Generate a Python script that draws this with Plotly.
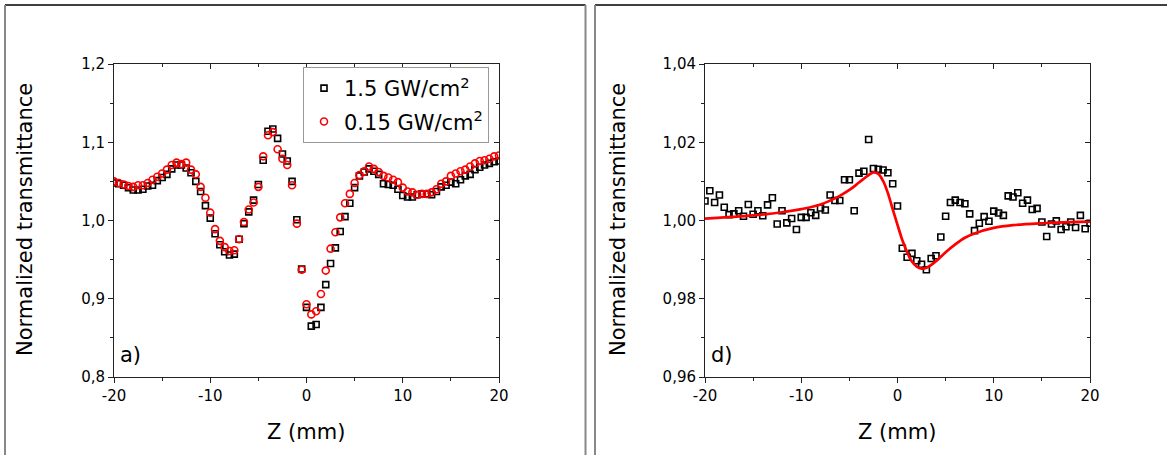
import plotly.graph_objects as go

# ---------------- data ----------------
z_a = [-20 + 0.5 * i for i in range(81)]

t_high_a = [1.048, 1.047, 1.045, 1.042, 1.039, 1.039, 1.040, 1.044, 1.045, 1.051,
            1.055, 1.059, 1.066, 1.071, 1.071, 1.067, 1.061, 1.050, 1.037, 1.019,
            1.003, 0.983, 0.969, 0.960, 0.956, 0.957, 0.976, 0.996, 1.011, 1.026,
            1.046, 1.077, 1.114, 1.117, 1.105, 1.085, 1.076, 1.050, 1.001, 0.938,
            0.889, 0.865, 0.867, 0.889, 0.918, 0.945, 0.965, 0.986, 1.005, 1.022,
            1.042, 1.057, 1.062, 1.066, 1.063, 1.059, 1.047, 1.046, 1.045, 1.040,
            1.032, 1.030, 1.030, 1.033, 1.034, 1.034, 1.033, 1.037, 1.043, 1.045,
            1.049, 1.047, 1.052, 1.057, 1.059, 1.065, 1.068, 1.071, 1.073, 1.075,
            1.076]

t_low_a = [1.050, 1.048, 1.046, 1.044, 1.043, 1.045, 1.045, 1.048, 1.052, 1.056,
           1.060, 1.065, 1.071, 1.074, 1.072, 1.074, 1.065, 1.059, 1.043, 1.029,
           1.010, 0.989, 0.974, 0.966, 0.961, 0.962, 0.976, 0.998, 1.014, 1.023,
           1.043, 1.082, 1.109, 1.113, 1.091, 1.079, 1.071, 1.045, 0.996, 0.937,
           0.893, 0.880, 0.884, 0.906, 0.936, 0.964, 0.985, 1.004, 1.022, 1.034,
           1.048, 1.058, 1.063, 1.069, 1.066, 1.062, 1.057, 1.055, 1.052, 1.049,
           1.042, 1.037, 1.036, 1.033, 1.034, 1.034, 1.036, 1.040, 1.047, 1.050,
           1.057, 1.060, 1.063, 1.065, 1.069, 1.073, 1.076, 1.077, 1.079, 1.082,
           1.083]

z_d = [-20 + 0.5 * i for i in range(81)]
t_d = [1.0050, 1.0076, 1.0046, 1.0065, 1.0034, 1.0015, 1.0017, 1.0025, 1.0011, 1.0041,
       1.0016, 1.0025, 1.0012, 1.0040, 1.0058, 0.9991, 1.0025, 0.9994, 1.0005, 0.9977,
       1.0008, 1.0008, 1.0020, 1.0013, 1.0032, 1.0027, 1.0065, 1.0051, 1.0051, 1.0104,
       1.0104, 1.0025, 1.0121, 1.0126, 1.0207, 1.0133, 1.0131, 1.0129, 1.0122, 1.0094,
       1.0037, 0.9929, 0.9906, 0.9916, 0.9897, 0.9888, 0.9874, 0.9903, 0.9910, 0.9958,
       1.0011, 1.0046, 1.0052, 1.0046, 1.0043, 1.0017, 0.9974, 0.9993, 1.0010, 0.9998,
       1.0024, 1.0019, 1.0013, 1.0063, 1.0060, 1.0071, 1.0044, 1.0052, 1.0028, 1.0031,
       0.9996, 0.9959, 0.9991, 0.9999, 0.9977, 0.9984, 0.9996, 0.9982, 1.0013, 0.9979,
       0.9993]

z_fit = [-20, -15, -12, -10, -8, -6, -5, -4, -3, -2.5, -2, -1.5, -1, -0.5, 0, 0.5,
         1, 1.5, 2, 2.5, 3, 4, 5, 6, 7, 8, 10, 12, 15, 18, 20]
t_fit = [1.0005, 1.0013, 1.0021, 1.0029, 1.0041, 1.0063, 1.0078, 1.0097, 1.0116, 1.0123,
         1.0119, 1.0101, 1.0070, 1.0029, 0.9989, 0.9950, 0.9919, 0.9895, 0.9882, 0.9877,
         0.9879, 0.9896, 0.9919, 0.9939, 0.9956, 0.9967, 0.9981, 0.9988, 0.9993, 0.9996,
         0.9997]

legend_labels = ["1.5 GW/cm<sup>2</sup>", "0.15 GW/cm<sup>2</sup>"]
x_tickvals = [-20, -10, 0, 10, 20]
x_ticktext = ["-20", "-10", "0", "10", "20"]

# ---------------- layout geometry ----------------
W, H = 1167, 455
xa_dom = [114 / W, 499 / W]
xd_dom = [705 / W, 1090 / W]
y_dom = [1 - 377 / H, 1 - 64 / H]

FONT = "DejaVu Sans, Arial, sans-serif"
AX = "#222222"

fig = go.Figure()

fig.add_trace(go.Scatter(x=z_a, y=t_high_a, mode="markers", name=legend_labels[0],
                         legendgroup="g1",
                         marker=dict(symbol="square-open", size=6, color="black",
                                     line=dict(width=1.6, color="black")),
                         xaxis="x", yaxis="y"))
fig.add_trace(go.Scatter(x=z_a, y=t_low_a, mode="markers", name=legend_labels[1],
                         legendgroup="g2",
                         marker=dict(symbol="circle-open", size=7, color="red",
                                     line=dict(width=1.6, color="red")),
                         xaxis="x", yaxis="y"))
fig.add_trace(go.Scatter(x=z_d, y=t_d, mode="markers", showlegend=False,
                         marker=dict(symbol="square-open", size=6, color="black",
                                     line=dict(width=1.6, color="black")),
                         xaxis="x2", yaxis="y2"))
fig.add_trace(go.Scatter(x=z_fit, y=t_fit, mode="lines", showlegend=False,
                         line=dict(color="red", width=2.7, shape="spline"),
                         xaxis="x2", yaxis="y2"))
# empty traces to carry the mirror (inside-tick) axes
fig.add_trace(go.Scatter(x=[], y=[], showlegend=False, xaxis="x3", yaxis="y3"))
fig.add_trace(go.Scatter(x=[], y=[], showlegend=False, xaxis="x4", yaxis="y4"))


def xax(dom, anchor, **kw):
    d = dict(domain=dom, range=[-20, 20], anchor=anchor, showgrid=False, zeroline=False,
             automargin=False,
             showline=True, linecolor=AX, linewidth=1, ticks="outside", ticklen=5,
             tickcolor=AX, tickwidth=1, tickmode="array",
             tickvals=x_tickvals, ticktext=x_ticktext,
             minor=dict(tickmode="linear", dtick=5, tick0=0, ticklen=3, ticks="outside",
                        tickcolor=AX, showgrid=False),
             tickfont=dict(family=FONT, size=15, color="black"))
    d.update(kw)
    return d


def yax(dom, anchor, rng, dt, fmt, **kw):
    d = dict(domain=dom, range=rng, anchor=anchor, showgrid=False, zeroline=False,
             automargin=False,
             showline=True, linecolor=AX, linewidth=1, ticks="outside", ticklen=5,
             tickcolor=AX, tickwidth=1, dtick=dt, tick0=0, tickformat=fmt,
             minor=dict(dtick=dt / 2, ticklen=3, ticks="outside", tickcolor=AX, showgrid=False),
             tickfont=dict(family=FONT, size=15, color="black"))
    d.update(kw)
    return d


fig.update_layout(
    width=W, height=H, margin=dict(l=0, r=0, t=0, b=0, pad=0, autoexpand=False),
    paper_bgcolor="white", plot_bgcolor="white",
    separators=",.",
    font=dict(family=FONT, color="black"),
    xaxis=xax(xa_dom, "y"),
    yaxis=yax(y_dom, "x", [0.8, 1.2], 0.1, ".1f"),
    xaxis2=xax(xd_dom, "y2"),
    yaxis2=yax(y_dom, "x2", [0.96, 1.04], 0.02, ".2f"),
    xaxis3=xax(xa_dom, "y3", overlaying="x", side="top", ticks="inside",
               showticklabels=False,
               minor=dict(tickmode="linear", dtick=5, tick0=0, ticklen=3, ticks="inside",
                          tickcolor=AX, showgrid=False)),
    yaxis3=yax(y_dom, "x3", [0.8, 1.2], 0.1, ".1f", overlaying="y", side="right",
               ticks="inside", showticklabels=False,
               minor=dict(dtick=0.05, ticklen=3, ticks="inside", tickcolor=AX, showgrid=False)),
    xaxis4=xax(xd_dom, "y4", overlaying="x2", side="top", ticks="inside",
               showticklabels=False,
               minor=dict(tickmode="linear", dtick=5, tick0=0, ticklen=3, ticks="inside",
                          tickcolor=AX, showgrid=False)),
    yaxis4=yax(y_dom, "x4", [0.96, 1.04], 0.02, ".2f", overlaying="y2", side="right",
               ticks="inside", showticklabels=False,
               minor=dict(dtick=0.01, ticklen=3, ticks="inside", tickcolor=AX, showgrid=False)),
    legend=dict(x=303 / W, y=1 - 67 / H, xanchor="left", yanchor="top",
                bgcolor="white", bordercolor="#999999", borderwidth=1,
                font=dict(family=FONT, size=21, color="black"),
                tracegroupgap=3, itemsizing="trace"),
    showlegend=True,
)

annos = []
for xc in (25 / W, 618 / W):
    annos.append(dict(text="Normalized transmittance", x=xc, y=1 - 220 / H,
                      xref="paper", yref="paper", showarrow=False, textangle=-90,
                      font=dict(family=FONT, size=21, color="black"),
                      xanchor="center", yanchor="middle"))
for xc in (306 / W, 897 / W):
    annos.append(dict(text="Z (mm)", x=xc, y=1 - 432 / H, xref="paper", yref="paper",
                      showarrow=False, font=dict(family=FONT, size=21, color="black"),
                      xanchor="center", yanchor="middle"))
for txt, xl in (("a)", 118 / W), ("d)", 709 / W)):
    annos.append(dict(text=txt, x=xl, y=1 - 355 / H, xref="paper", yref="paper",
                      showarrow=False, font=dict(family=FONT, size=21, color="black"),
                      xanchor="left", yanchor="middle"))
fig.update_layout(annotations=annos)

# panel frames (paper coordinates)
shapes = []
for x0, x1 in ((5, 585.5), (595, 1167)):
    shapes.append(dict(type="line", xref="paper", yref="paper", x0=x0 / W, x1=x1 / W,
                       y0=1 - 5 / H, y1=1 - 5 / H, line=dict(color="black", width=1.5)))
for xv in (5, 585.5, 595):
    shapes.append(dict(type="line", xref="paper", yref="paper", x0=xv / W, x1=xv / W,
                       y0=0, y1=1 - 5 / H, line=dict(color="#888888", width=2)))
fig.update_layout(shapes=shapes)

fig.write_html("out.html",
               config={"displayModeBar": False},
               post_script="document.body.style.margin='0px';"
                           "document.body.style.overflow='hidden';")
